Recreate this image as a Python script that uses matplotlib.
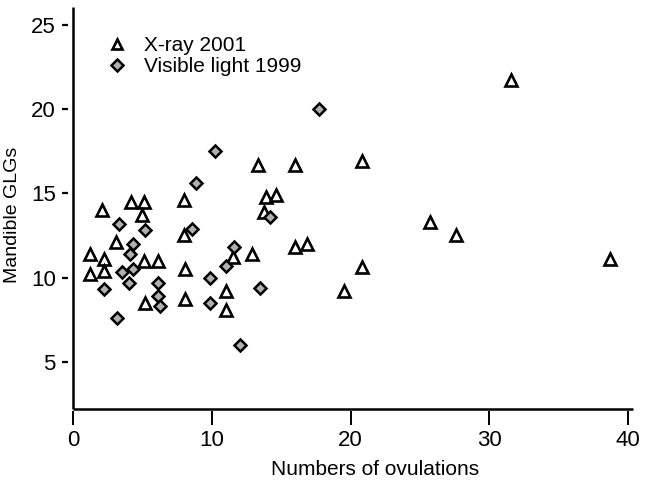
import matplotlib
matplotlib.use('Agg')
import matplotlib.pyplot as plt
from matplotlib.lines import Line2D
from matplotlib.markers import MarkerStyle

plt.rcParams['font.family'] = ['Liberation Sans', 'DejaVu Sans']

# X-ray 2001 (triangles)
xray_x = [2.1, 4.2, 5.1, 5.0, 8.0, 3.1, 8.0, 1.2, 2.2, 1.2, 2.2, 5.1, 6.1, 8.1, 5.2, 8.1,
          13.3, 16.0, 13.9, 14.6, 13.8, 16.0, 16.9, 11.5, 12.9, 11.0, 11.0,
          31.6, 20.8, 25.7, 27.6, 38.7, 20.8, 19.5]
xray_y = [14.0, 14.5, 14.5, 13.7, 14.6, 12.1, 12.5, 11.4, 11.1, 10.2, 10.4, 11.0, 11.0, 10.5, 8.5, 8.7,
          16.7, 16.7, 14.8, 14.9, 13.9, 11.8, 12.0, 11.2, 11.4, 9.2, 8.1,
          21.7, 16.9, 13.3, 12.5, 11.1, 10.6, 9.2]

# Visible light 1999 (diamonds)
vis_x = [8.9, 3.3, 5.2, 8.6, 4.3, 4.1, 3.5, 4.3, 4.0, 2.2, 6.1, 6.1, 6.3, 3.2,
         9.9, 9.9, 17.7, 10.2, 14.2, 11.6, 11.0, 13.5, 12.0]
vis_y = [15.6, 13.2, 12.8, 12.9, 12.0, 11.4, 10.3, 10.5, 9.7, 9.3, 9.7, 8.9, 8.3, 7.6,
         10.0, 8.5, 20.0, 17.5, 13.6, 11.8, 10.7, 9.4, 6.0]

xticks = [0, 10, 20, 30, 40]
yticks = [5, 10, 15, 20, 25]

fig = plt.figure(figsize=(6.45, 4.83), dpi=100)
W, H = 645, 483
ax = fig.add_axes([73 / W, 1 - 409 / H, 560 / W, 402 / H])

tri = dict(linestyle='none', marker='^', markerfacecolor='white',
           markeredgecolor='black', markeredgewidth=1.9)
dia = dict(linestyle='none', marker=MarkerStyle('D', joinstyle='miter'),
           markerfacecolor='#b0b0b0', markeredgecolor='black', markeredgewidth=1.8)

ax.plot(xray_x, xray_y, markersize=9, clip_on=False, **tri)
ax.plot(vis_x, vis_y, markersize=6.4, clip_on=False, **dia)

ax.set_xlim(0.33, 40.36)
ax.set_ylim(2.2, 26.05)
ax.set_xticks(xticks)
ax.set_yticks(yticks)

# ticks detached from the axis lines
for s in ['top', 'right']:
    ax.spines[s].set_visible(False)
ax.spines['left'].set_position(('outward', 3.6))
ax.spines['bottom'].set_position(('outward', 1.5))
ax.spines['left'].set_edgecolor('none')
ax.spines['bottom'].set_edgecolor('none')
ax.plot([0, 0], [0, 1], transform=ax.transAxes, color='black', lw=1.8,
        clip_on=False, solid_capstyle='butt')
ax.plot([0, 1], [0, 0], transform=ax.transAxes, color='black', lw=1.8,
        clip_on=False, solid_capstyle='butt')

ax.tick_params(axis='x', direction='out', length=10, width=1.4, pad=3.5, labelsize=16)
ax.tick_params(axis='y', direction='out', length=4.3, width=1.6, pad=4.5, labelsize=16)

ax.set_xlabel('Numbers of ovulations', fontsize=15)
ax.set_ylabel('Mandible GLGs', fontsize=14)
ax.xaxis.set_label_coords(0.539, -0.128)
ax.yaxis.set_label_coords(-0.093, 0.483)

handles = [Line2D([], [], markersize=7.5, **tri),
           Line2D([], [], markersize=6.4, **dia)]
ax.legend(handles, ['X-ray 2001', 'Visible light 1999'], loc='upper left',
          bbox_to_anchor=(0.035, 0.948), frameon=False, fontsize=15,
          handletextpad=0.55, labelspacing=0.08, borderaxespad=0, handlelength=1.5)

fig.savefig('out.png', dpi=100)
